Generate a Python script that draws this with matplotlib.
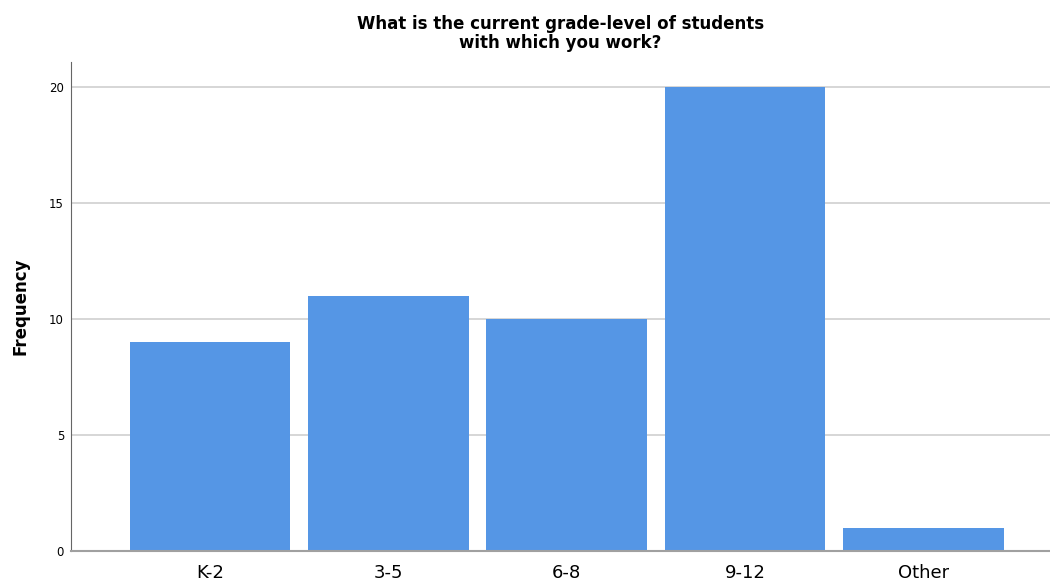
import matplotlib.pyplot as plt

categories = ["K-2", "3-5", "6-8", "9-12", "Other"]
frequency = [9, 11, 10, 20, 1]
y_ticks = [0, 5, 10, 15, 20]

fig = plt.figure(figsize=(10.5, 5.8), dpi=100)
ax = fig.add_axes([0.0676, 0.05, 0.9324, 0.843])

ax.bar(range(len(categories)), frequency, width=0.9, color="#5596e5", zorder=2)

ax.set_xlim(-0.78, 4.71)
ax.set_ylim(0, 21.08)
ax.set_yticks(y_ticks)
ax.set_yticklabels([str(t) for t in y_ticks], fontsize=8.5)
ax.set_xticks(range(len(categories)))
ax.set_xticklabels(categories, fontsize=13)
ax.tick_params(axis="both", length=0, pad=5)
ax.tick_params(axis="x", pad=9)

ax.grid(axis="y", color="#d0d0d0", linewidth=1.2, zorder=0)
for s in ["top", "right"]:
    ax.spines[s].set_visible(False)
ax.spines["left"].set_color("#666666")
ax.spines["bottom"].set_color("#a0a0a0")
ax.spines["bottom"].set_linewidth(1.5)

ax.set_ylabel("Frequency", fontsize=12, fontweight="bold", labelpad=14)
ax.set_title("What is the current grade-level of students\nwith which you work?",
             fontsize=12, fontweight="bold", pad=10, linespacing=1.1)

fig.savefig("out.png", dpi=100)
